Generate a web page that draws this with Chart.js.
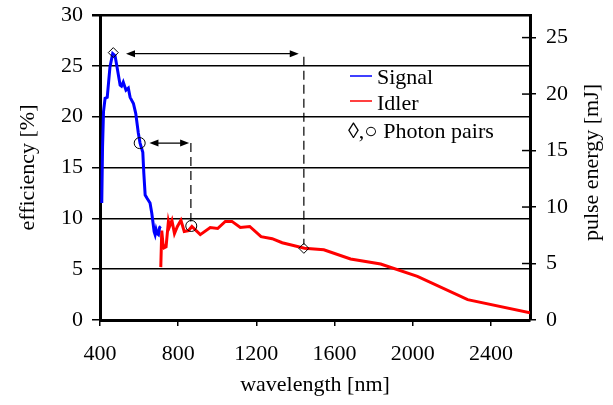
<!DOCTYPE html>
<html>
<head>
<meta charset="utf-8">
<script src="https://cdn.jsdelivr.net/npm/chart.js@4/dist/chart.umd.min.js"></script>
<style>html,body{margin:0;padding:0;background:#fff;}canvas{display:block;}</style>
</head>
<body>
<canvas id="c" width="613" height="405"></canvas>
<script>
// ---- data ----
const signalWl  = [409, 413, 418, 426, 437, 451, 465, 477, 486, 503, 510, 519, 533, 545, 554, 571, 583, 596, 605, 619, 624, 631, 640, 656, 665, 677, 682, 687, 693, 699, 705, 711];
const signalEff = [11.5, 17, 20.5, 21.8, 21.9, 24.9, 26.2, 26.0, 25.0, 23.1, 23.0, 23.4, 22.6, 22.8, 21.9, 21.3, 20.3, 18.4, 17.4, 16.5, 14.5, 12.3, 12.0, 11.5, 10.5, 8.7, 8.4, 8.9, 8.5, 8.4, 9.1, 9.2];
const idlerWl   = [711, 716, 722, 728, 738, 750, 756, 768, 781, 796, 814, 831, 853, 870, 913, 964, 1002, 1041, 1075, 1118, 1166, 1224, 1281, 1332, 1374, 1446, 1545, 1682, 1836, 2024, 2281, 2600];
const idlerEff  = [5.2, 8.8, 7.5, 7.1, 7.2, 9.7, 9.2, 9.8, 8.5, 9.2, 9.8, 8.7, 8.8, 9.2, 8.4, 9.1, 9.0, 9.7, 9.7, 9.1, 9.2, 8.2, 8.0, 7.6, 7.4, 7.05, 6.9, 6.0, 5.5, 4.3, 2.0, 0.7];
const diamondWl = [468, 1443];
const diamondEff = [26.3, 7.05];
const circleWl  = [603, 867];
const circleEff = [17.4, 9.25];
const dashWl    = [1443, 865];
const dashTop   = [25.9, 17.4];
const dashBottom = [7.4, 9.7];
const arrowY    = [26.2, 17.4];
const arrowFrom = [533, 653];
const arrowTo   = [1417, 856];
const xTicks = [400, 800, 1200, 1600, 2000, 2400];
const legendLabels = ["Signal", "Idler", "\u25CA,\u25CB Photon pairs"];
const xTitle = "wavelength [nm]";
const yTitle = "efficiency [%]";
const y2Title = "pulse energy [mJ]";

const FONT = "'Liberation Serif', 'Times New Roman', serif";
const pts = (xs, ys) => xs.map((x, i) => ({x: x, y: ys[i]}));

const dashSets = dashWl.map((x, i) => ({
  type: 'line', data: [{x: x, y: dashTop[i]}, {x: x, y: dashBottom[i]}],
  borderColor: '#000', borderWidth: 1.2, borderDash: [9, 5], pointRadius: 0, yAxisID: 'y', order: 5
}));

const overlay = {
  id: 'overlay',
  afterDatasetsDraw(chart) {
    const ctx = chart.ctx, xs = chart.scales.x, ys = chart.scales.y, ca = chart.chartArea;
    ctx.save();
    // arrows
    ctx.strokeStyle = '#000'; ctx.fillStyle = '#000'; ctx.lineWidth = 1.2;
    arrowY.forEach((v, i) => {
      const y = ys.getPixelForValue(v), x1 = xs.getPixelForValue(arrowFrom[i]), x2 = xs.getPixelForValue(arrowTo[i]);
      ctx.beginPath(); ctx.moveTo(x1 + 4, y); ctx.lineTo(x2 - 4, y); ctx.stroke();
      ctx.beginPath(); ctx.moveTo(x1, y); ctx.lineTo(x1 + 9, y - 3.5); ctx.lineTo(x1 + 9, y + 3.5); ctx.closePath(); ctx.fill();
      ctx.beginPath(); ctx.moveTo(x2, y); ctx.lineTo(x2 - 9, y - 3.5); ctx.lineTo(x2 - 9, y + 3.5); ctx.closePath(); ctx.fill();
    });
    // right axis inner ticks
    const r = chart.scales.y2;
    ctx.lineWidth = 1.5;
    r.ticks.forEach(t => {
      const y = r.getPixelForValue(t.value);
      ctx.beginPath(); ctx.moveTo(ca.right - 8, y); ctx.lineTo(ca.right, y); ctx.stroke();
    });
    // legend
    const lx = ca.left + 250, ly = ca.top + 61;
    ctx.font = "22px " + FONT; ctx.textBaseline = 'middle'; ctx.textAlign = 'left';
    ctx.lineWidth = 1.5;
    ctx.strokeStyle = '#0000ff'; ctx.beginPath(); ctx.moveTo(lx, ly); ctx.lineTo(lx + 22, ly); ctx.stroke();
    ctx.strokeStyle = '#ff0000'; ctx.beginPath(); ctx.moveTo(lx, ly + 25); ctx.lineTo(lx + 22, ly + 25); ctx.stroke();
    ctx.fillStyle = '#000';
    ctx.fillText(legendLabels[0], lx + 27, ly + 2);
    ctx.fillText(legendLabels[1], lx + 27, ly + 28);
    ctx.fillText(legendLabels[2], lx - 2, ly + 56);
    // right title
    ctx.translate(ca.right + 62, (ca.top + ca.bottom) / 2 - 5);
    ctx.rotate(-Math.PI / 2);
    ctx.textAlign = 'center';
    ctx.fillText(y2Title, 0, 0);
    ctx.restore();
  }
};

const vFit = w => s => { s.width = w; s.paddingTop = 0; s.paddingBottom = 0; };

new Chart(document.getElementById('c'), {
  type: 'scatter',
  data: {
    datasets: [
      {type: 'line', label: legendLabels[0], data: pts(signalWl, signalEff), borderColor: '#0000ff', borderWidth: 3, pointRadius: 0, tension: 0, yAxisID: 'y', order: 2},
      {type: 'line', label: legendLabels[1], data: pts(idlerWl, idlerEff), borderColor: '#ff0000', borderWidth: 3, pointRadius: 0, tension: 0, yAxisID: 'y', order: 2},
      ...dashSets,
      {type: 'scatter', data: pts(diamondWl, diamondEff), pointStyle: 'rectRot', pointRadius: 5, borderColor: '#000', borderWidth: 1, backgroundColor: 'rgba(255,255,255,0)', yAxisID: 'y', order: 1},
      {type: 'scatter', data: pts(circleWl, circleEff), pointStyle: 'circle', pointRadius: 5.5, borderColor: '#000', borderWidth: 1, backgroundColor: 'rgba(255,255,255,0)', yAxisID: 'y', order: 1}
    ]
  },
  options: {
    responsive: false, animation: false, devicePixelRatio: 1,
    layout: {padding: {top: 15, left: 0, right: 0, bottom: 0}},
    plugins: {legend: {display: false}, tooltip: {enabled: false}},
    scales: {
      x: {
        type: 'linear', position: 'bottom', min: 400, max: 2600,
        afterBuildTicks: s => { s.ticks = xTicks.map(v => ({value: v})); },
        afterFit: s => { s.height = 85; s.paddingLeft = 0; s.paddingRight = 0; },
        ticks: {font: {family: FONT, size: 22}, color: '#000', padding: 15, maxRotation: 0, autoSkip: false, callback: v => String(v)},
        grid: {drawOnChartArea: false, color: '#000', lineWidth: 1.5, tickLength: 6},
        border: {color: '#000', width: 3},
        title: {display: true, text: xTitle, font: {family: FONT, size: 22}, color: '#000', padding: {top: 0, bottom: 7}}
      },
      y: {
        type: 'linear', position: 'left', min: 0, max: 30,
        afterFit: vFit(100),
        ticks: {stepSize: 5, font: {family: FONT, size: 22}, color: '#000', padding: 9},
        grid: {color: '#000', lineWidth: c => (c.tick && c.tick.value === 30 ? 2.5 : 1.5), tickLength: 8},
        border: {color: '#000', width: 3},
        title: {display: true, text: yTitle, font: {family: FONT, size: 22}, color: '#000', padding: {top: 15, bottom: 0}}
      },
      y2: {
        type: 'linear', position: 'right', min: 0, max: 27,
        afterFit: vFit(83),
        ticks: {stepSize: 5, includeBounds: false, font: {family: FONT, size: 22}, color: '#000', padding: 10},
        grid: {drawOnChartArea: false, color: '#000', lineWidth: 1.5, tickLength: 6},
        border: {color: '#000', width: 3}
      }
    }
  },
  plugins: [overlay]
});
</script>
</body>
</html>
